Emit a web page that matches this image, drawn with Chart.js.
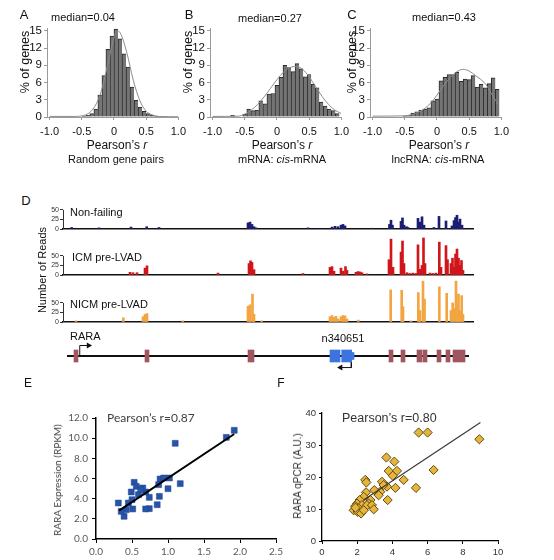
<!DOCTYPE html>
<html>
<head>
<meta charset="utf-8">
<script src="https://cdn.jsdelivr.net/npm/chart.js@4.4.1/dist/chart.umd.min.js"></script>
<style>
  body { margin: 0; background: #fff; width: 554px; height: 560px; position: relative; overflow: hidden;
         font-family: 'Liberation Sans', Arial, sans-serif; color: #111; }
  canvas { position: absolute; }
  .t { position: absolute; white-space: nowrap; line-height: 1; }
</style>
</head>
<body>
<canvas id="hA"></canvas>
<canvas id="hB"></canvas>
<canvas id="hC"></canvas>
<canvas id="tNF"></canvas>
<canvas id="tICM"></canvas>
<canvas id="tNICM"></canvas>
<canvas id="gLine"></canvas>
<canvas id="gEx"></canvas>
<canvas id="sE"></canvas>
<canvas id="sF"></canvas>
<script>
Chart.defaults.font.family = "'Liberation Sans', Arial, sans-serif";
Chart.defaults.color = '#111';

// ---------- A-C : histograms of Pearson's r ----------
const histXTicks = [-1, -0.5, 0, 0.5, 1];
const histXLabels = ['-1.0', '-0.5', '0', '0.5', '1.0'];
const histYTicks = [0, 3, 6, 9, 12, 15];

const binsA = [-0.469, -0.406, -0.344, -0.281, -0.219, -0.156, -0.094, -0.031, 0.031, 0.094,
               0.156, 0.219, 0.281, 0.344, 0.406, 0.469, 0.531, 0.594, 0.656];
const pctA  = [0.15, 0.3, 0.6, 1.4, 3.8, 7.2, 11.8, 14.1, 15.3, 13.6,
               11.0, 8.7, 5.2, 2.9, 1.7, 1.0, 0.6, 0.3, 0.15];
const fitAx = [-1, -0.6, -0.5, -0.4, -0.3, -0.2, -0.1, 0, 0.05, 0.1, 0.2, 0.3, 0.4, 0.5, 0.6, 0.7, 1];
const fitAy = [0.1, 0.1, 0.2, 0.6, 1.8, 4.4, 9.0, 13.8, 15.0, 14.6, 11.2, 6.4, 2.9, 1.0, 0.35, 0.1, 0.05];

const binsB = [-0.6875, -0.5, -0.4375, -0.375, -0.3125, -0.25, -0.1875, -0.125, -0.0625, 0, 0.0625,
               0.125, 0.1875, 0.25, 0.3125, 0.375, 0.4375, 0.5, 0.5625, 0.625, 0.6875, 0.75,
               0.8125, 0.875, 0.9375];
const pctB  = [0.3, 0.5, 1.4, 1.1, 1.2, 2.8, 2.3, 4.0, 4.1, 5.5, 6.9,
               9.0, 8.6, 7.9, 9.3, 8.4, 7.0, 7.4, 5.7, 5.1, 2.6, 1.9,
               1.4, 1.1, 0.6];
const fitBx = [-1, -0.6, -0.5, -0.4, -0.3, -0.2, -0.1, 0, 0.1, 0.2, 0.3, 0.4, 0.5, 0.6, 0.7, 0.8, 0.9, 1];
const fitBy = [0.1, 0.15, 0.5, 1.2, 2.2, 3.5, 5.0, 6.5, 7.8, 8.6, 8.8, 8.3, 7.0, 5.3, 3.6, 2.2, 1.2, 0.6];

const binsC = [-0.5, -0.4375, -0.375, -0.3125, -0.25, -0.1875, -0.125, -0.0625, 0, 0.0625,
               0.125, 0.1875, 0.25, 0.3125, 0.375, 0.4375, 0.5, 0.5625, 0.625, 0.6875,
               0.75, 0.8125, 0.875, 0.9375];
const pctC  = [0.2, 0.3, 0.7, 0.9, 1.2, 1.4, 1.6, 2.8, 3.1, 6.3,
               6.9, 7.4, 7.4, 7.8, 6.2, 6.6, 6.5, 7.2, 5.2, 5.7,
               5.1, 5.8, 6.8, 4.8];
const fitCx = [-1, -0.5, -0.4, -0.3, -0.2, -0.1, 0, 0.1, 0.2, 0.3, 0.4, 0.5, 0.6, 0.75, 0.85, 0.95];
const fitCy = [0.15, 0.2, 0.4, 0.8, 1.4, 2.4, 3.8, 5.4, 6.8, 7.8, 8.3, 8.0, 7.2, 5.8, 4.0, 2.2];

// ---------- D : read coverage (position in kb, number of reads) ----------
const trackTicks = [0, 25, 50];
const nfPos   = [0.87, 3.6, 6.8, 8.37, 9.6, 18.5, 18.7, 18.9, 19.1, 19.3, 24.5, 25.7, 26.9, 27.2, 27.5, 27.8, 28.0, 28.2,
                 30.9, 32.65, 32.8, 32.95, 33.8, 33.95, 34.1, 34.35, 34.5, 35.5, 35.7, 35.9, 36.1, 37.1, 37.6, 38.3,
                 38.9, 39.1, 39.25, 39.4, 39.55, 39.7, 39.9];
const nfReads = [4, 3, 5, 6, 4, 16, 18, 12, 6, 3, 3, 2, 5, 7, 6, 10, 12, 8,
                 2, 12, 23, 10, 20, 29, 10, 6, 4, 28, 18, 32, 10, 4, 33, 21,
                 8, 22, 30, 36, 18, 26, 10];
const icmPos   = [6.7, 7.0, 7.4, 8.2, 8.4, 15.5, 18.6, 18.75, 18.9, 19.1, 24.0, 26.7, 26.9, 27.1, 27.8, 28.0, 28.25, 28.4,
                  29.3, 29.5, 29.7, 29.9, 30.4, 32.6, 32.8, 33.0, 33.8, 33.95, 34.1, 34.4, 34.7, 35.0, 35.3,
                  35.5, 35.7, 35.9, 36.05, 36.2, 36.7, 37.0, 37.3, 37.63, 37.8, 38.3, 38.45,
                  38.8, 38.95, 39.1, 39.25, 39.4, 39.55, 39.7, 39.85, 40.0];
const icmReads = [7, 6, 6, 18, 24, 5, 30, 37, 33, 14, 4, 20, 22, 10, 18, 10, 22, 12,
                  7, 9, 8, 6, 3, 40, 94, 20, 60, 89, 30, 6, 4, 5, 4,
                  79, 15, 25, 97, 30, 5, 4, 5, 86, 20, 77, 40,
                  30, 44, 20, 55, 68, 44, 25, 38, 12];
const nicmPos   = [1.3, 6.03, 8.0, 8.2, 8.4, 11.97, 18.5, 18.7, 18.95, 19.1, 19.87, 26.7, 26.9, 27.1, 27.3, 27.5,
                   27.8, 28.0, 28.2, 28.4, 29.53, 32.77, 33.87, 34.0, 34.8, 35.53, 35.7, 36.0, 36.15, 37.63, 38.37,
                   38.8, 38.97, 39.1, 39.3, 39.45, 39.55, 39.7, 39.87, 40.0];
const nicmReads = [3, 11, 14, 20, 22, 3, 41, 45, 73, 20, 3, 14, 17, 12, 15, 8,
                   14, 17, 16, 8, 5, 84, 83, 40, 3, 77, 30, 107, 60, 92, 75,
                   30, 50, 35, 107, 50, 73, 30, 69, 20];

// gene models (kb)
const geneSpan = [0, 41];
const raraStart = [1.1, 8.2, 18.5, 32.6, 33.8, 35.4, 36.0, 37.4, 38.3, 39.0];
const raraEnd   = [1.5, 8.6, 19.1, 33.0, 34.2, 35.9, 36.4, 37.8, 38.7, 40.2];
const ncStart = [26.7, 27.87];
const ncEnd   = [27.7, 28.87];
const ncTail  = [28.87, 29.1];
const tssRaraX = [1.3, 1.3, 2.2];
const tssRaraY = [0, 0.5, 0.5];
const tssNcX = [29.0, 29.0, 27.9];
const tssNcY = [-0.25, -0.55, -0.55];

// ---------- E / F : correlations ----------
const eX = [1.92, 1.81, 1.10, 1.17, 1.02, 1.00, 0.89, 0.87, 0.88, 0.85, 0.74, 0.69, 0.74, 0.69, 0.65,
            0.59, 0.53, 0.56, 0.49, 0.50, 0.45, 0.51, 0.42, 0.39, 0.35, 0.31, 0.62, 0.94];
const eY = [10.78, 10.08, 9.49, 5.49, 6.05, 4.99, 5.95, 5.39, 4.23, 3.40, 3.01, 2.98, 4.13, 4.66, 5.06,
            4.40, 5.62, 5.22, 4.66, 3.90, 3.57, 2.98, 2.91, 2.25, 2.74, 3.57, 4.90, 6.05];
const eFitX = [0.32, 1.92];
const eFitY = [2.81, 10.41];
const eXTicks = [0, 0.5, 1, 1.5, 2, 2.5];
const eXLabels = ['0.0', '0.5', '1.0', '1.5', '2.0', '2.5'];
const eYTicks = [0, 2, 4, 6, 8, 10, 12];
const eYLabels = ['0.0', '2.0', '4.0', '6.0', '8.0', '10.0', '12.0'];

const fX = [5.49, 6.0, 8.94, 6.34, 3.66, 4.11, 3.79, 4.26, 4.02, 4.64, 5.34, 4.17, 3.69, 3.41, 3.5,
            3.31, 3.22, 3.73, 2.97, 2.46, 2.52, 2.5, 2.37, 2.75, 2.65, 2.14, 1.99, 2.27, 2.56, 2.84,
            2.94, 1.89, 2.08, 1.8, 2.03, 2.22, 2.37, 1.9];
const fY = [33.9, 33.9, 31.8, 22.2, 26.1, 24.8, 21.9, 21.9, 20.4, 19.1, 16.6, 16.6, 17.0, 18.5, 17.5,
            15.4, 14.3, 12.8, 15.9, 19.1, 18.3, 15.2, 13.8, 12.8, 11.7, 12.8, 11.7, 11.2, 11.2, 11.2,
            9.9, 10.9, 10.2, 9.6, 9.1, 8.6, 9.6, 10.4];
const fFitX = [2.4, 9.0];
const fFitY = [13.0, 37.0];
const fXTicks = [0, 2, 4, 6, 8, 10];
const fYTicks = [0, 10, 20, 30, 40];

// ---------- helpers ----------
// put a canvas so that its chart area lands on area = [left, top, right, bottom]
function place(id, area, yw, xh, pad) {
  const c = document.getElementById(id);
  c.width = area[2] - area[0] + yw + 2 * pad;
  c.height = area[3] - area[1] + xh + 2 * pad;
  c.style.left = (area[0] - yw - pad) + 'px';
  c.style.top = (area[1] - pad) + 'px';
  return c;
}

function baseOpts(pad, scales) {
  return {
    responsive: false, animation: false, events: [], devicePixelRatio: 1,
    layout: { padding: pad },
    plugins: { legend: { display: false }, tooltip: { enabled: false } },
    scales: scales
  };
}

function pts(xs, ys) { return xs.map((x, i) => ({ x: x, y: ys[i] })); }

function label(html, x, y, size, o) {
  o = o || {};
  const d = document.createElement('div');
  d.className = 't';
  d.innerHTML = html;
  d.style.left = x + 'px';
  d.style.top = y + 'px';
  d.style.fontSize = size + 'px';
  if (o.font) d.style.fontFamily = o.font;
  if (o.color) d.style.color = o.color;
  const tx = o.left ? '0' : '-50%';
  d.style.transform = 'translate(' + tx + ',-50%)' + (o.rot ? ' rotate(-90deg)' : '');
  document.body.appendChild(d);
}

// short vertical axis of a coverage track, drawn only from 0 to the top tick
const trackAxis = {
  id: 'trackAxis',
  afterDraw(chart) {
    const y = chart.scales.y, ctx = chart.ctx;
    const x0 = chart.chartArea.left;
    ctx.save();
    ctx.strokeStyle = '#333';
    ctx.lineWidth = 1;
    ctx.beginPath();
    ctx.moveTo(x0 + 0.5, y.getPixelForValue(0));
    ctx.lineTo(x0 + 0.5, y.getPixelForValue(trackTicks[trackTicks.length - 1]));
    ctx.stroke();
    ctx.restore();
  }
};

// ---------- histograms ----------
function histogram(id, area, bins, pct, fx, fy) {
  const cv = place(id, area, 30, 22, 10);
  new Chart(cv, {
    type: 'bar',
    data: {
      datasets: [
        { type: 'line', data: pts(fx, fy), borderColor: '#8c8c8c', borderWidth: 1, pointRadius: 0,
          cubicInterpolationMode: 'monotone', order: 0 },
        { data: pts(bins, pct), backgroundColor: '#747474', borderColor: '#2b2b2b',
          borderWidth: { left: 1, top: 1, right: 0, bottom: 0 }, borderSkipped: false,
          barPercentage: 1, categoryPercentage: 1, order: 1 }
      ]
    },
    options: baseOpts(10, {
      x: {
        type: 'linear', min: -1.04, max: 1, offset: false,
        afterBuildTicks: s => { s.ticks = histXTicks.map(v => ({ value: v })); },
        afterFit: s => { s.height = 22; },
        ticks: { callback: (v, i) => histXLabels[i], font: { size: 11 }, padding: 5, maxRotation: 0, autoSkip: false },
        grid: { drawOnChartArea: false, tickLength: 3, color: '#9a9a9a', offset: false },
        border: { color: '#9a9a9a' }
      },
      y: {
        min: 0, max: 15.5,
        afterBuildTicks: s => { s.ticks = histYTicks.map(v => ({ value: v })); },
        afterFit: s => { s.width = 30; },
        ticks: { callback: v => String(v), font: { size: 11.5 }, padding: 2 },
        grid: { drawOnChartArea: false, tickLength: 3, color: '#9a9a9a' },
        border: { color: '#9a9a9a' }
      }
    })
  });
}

histogram('hA', [47, 28, 181, 117], binsA, pctA, fitAx, fitAy);
histogram('hB', [210, 28, 344, 117], binsB, pctB, fitBx, fitBy);
histogram('hC', [370, 28, 504, 117], binsC, pctC, fitCx, fitCy);

// ---------- D tracks ----------
function track(id, baseY, pos, reads, color) {
  const cv = place(id, [63, baseY - 42, 473, baseY], 14, 0, 6);
  new Chart(cv, {
    type: 'bar',
    data: { datasets: [{ data: pts(pos, reads), backgroundColor: color, barThickness: 2 }] },
    options: baseOpts(6, {
      x: {
        type: 'linear', min: geneSpan[0], max: geneSpan[1], offset: false,
        afterFit: s => { s.height = 0; },
        ticks: { display: false },
        grid: { drawOnChartArea: false, drawTicks: false, offset: false },
        border: { color: '#111', width: 1.5 }
      },
      y: {
        min: 0, max: 110,
        afterBuildTicks: s => { s.ticks = trackTicks.map(v => ({ value: v })); },
        afterFit: s => { s.width = 14; },
        ticks: { callback: v => String(v), font: { size: 7 }, padding: 1, color: '#333' },
        grid: { drawOnChartArea: false, tickLength: 3, color: '#333' },
        border: { display: false }
      }
    }),
    plugins: [trackAxis]
  });
}
track('tNF', 229, nfPos, nfReads, '#1b1f73');
track('tICM', 275, icmPos, icmReads, '#d0161b');
track('tNICM', 322, nicmPos, nicmReads, '#f2a541');

// gene line + TSS arrows
const geneArea = [63, 331, 473, 381];
const hidden = { display: false };
new Chart(place('gLine', geneArea, 0, 0, 0), {
  type: 'line',
  data: {
    datasets: [
      { data: pts(geneSpan, [0, 0]), borderColor: '#111', borderWidth: 2, pointRadius: 0 },
      { data: pts(tssRaraX, tssRaraY), borderColor: '#111', borderWidth: 1, pointRadius: [0, 0, 3.5],
        pointStyle: 'triangle', pointRotation: 90, pointBackgroundColor: '#111', pointBorderWidth: 0 },
      { data: pts(tssNcX, tssNcY), borderColor: '#111', borderWidth: 1, pointRadius: [0, 0, 3.5],
        pointStyle: 'triangle', pointRotation: -90, pointBackgroundColor: '#111', pointBorderWidth: 0 }
    ]
  },
  options: baseOpts(0, {
    x: Object.assign({ type: 'linear', min: geneSpan[0], max: geneSpan[1] }, hidden),
    y: Object.assign({ type: 'linear', min: -1, max: 1 }, hidden)
  })
});

// exons
function exons(s, e) { return s.map((v, i) => ({ x: [v, e[i]], y: 0 })); }
new Chart(place('gEx', geneArea, 0, 0, 0), {
  type: 'bar',
  data: {
    datasets: [
      { data: exons(raraStart, raraEnd), backgroundColor: '#a0565f', barThickness: 12, grouped: false },
      { data: exons(ncStart, ncEnd), backgroundColor: '#3b74de', barThickness: 12, grouped: false },
      { data: exons([ncTail[0]], [ncTail[1]]), backgroundColor: '#3b74de', barThickness: 7, grouped: false }
    ]
  },
  options: Object.assign(baseOpts(0, {
    x: Object.assign({ type: 'linear', min: geneSpan[0], max: geneSpan[1] }, hidden),
    y: Object.assign({ type: 'linear', min: -1, max: 1 }, hidden)
  }), { indexAxis: 'y' })
});

// ---------- E ----------
new Chart(place('sE', [96, 418, 276, 539], 40, 18, 10), {
  type: 'scatter',
  data: {
    datasets: [
      { type: 'line', data: pts(eFitX, eFitY), borderColor: '#000', borderWidth: 2, pointRadius: 0, order: 0 },
      { data: pts(eX, eY), pointStyle: 'rect', pointRadius: 4.2, backgroundColor: '#2754a8',
        borderColor: '#1c4190', borderWidth: 0.5, order: 1 }
    ]
  },
  options: baseOpts(10, {
    x: {
      type: 'linear', min: 0, max: 2.5,
      afterBuildTicks: s => { s.ticks = eXTicks.map(v => ({ value: v })); },
      afterFit: s => { s.height = 18; },
      ticks: { callback: (v, i) => eXLabels[i], font: { family: 'Lato', size: 10 }, color: '#595959', padding: 3, maxRotation: 0, autoSkip: false },
      grid: { drawOnChartArea: false, tickLength: 4, color: '#000' },
      border: { color: '#000', width: 1.5 }
    },
    y: {
      min: 0, max: 12,
      afterBuildTicks: s => { s.ticks = eYTicks.map(v => ({ value: v })); },
      afterFit: s => { s.width = 40; },
      ticks: { callback: (v, i) => eYLabels[i], font: { family: 'Lato', size: 10 }, color: '#595959', padding: 4 },
      grid: { drawOnChartArea: false, tickLength: 4, color: '#000' },
      border: { color: '#000', width: 1.5 }
    }
  })
});

// ---------- F ----------
new Chart(place('sF', [322, 413, 498, 541], 30, 18, 10), {
  type: 'scatter',
  data: {
    datasets: [
      { type: 'line', data: pts(fFitX, fFitY), borderColor: '#3a3a3a', borderWidth: 1.2, pointRadius: 0, order: 0 },
      { data: pts(fX, fY), pointStyle: 'rectRot', pointRadius: 4.6, backgroundColor: '#e8b53c',
        borderColor: '#5e4a12', borderWidth: 1, order: 1 }
    ]
  },
  options: baseOpts(10, {
    x: {
      type: 'linear', min: 0, max: 10,
      afterBuildTicks: s => { s.ticks = fXTicks.map(v => ({ value: v })); },
      afterFit: s => { s.height = 18; },
      ticks: { callback: v => String(v), font: { size: 9.5 }, color: '#333', padding: 3, maxRotation: 0, autoSkip: false },
      grid: { drawOnChartArea: false, tickLength: 3, color: '#000' },
      border: { color: '#000', width: 1.3 }
    },
    y: {
      min: 0, max: 40,
      afterBuildTicks: s => { s.ticks = fYTicks.map(v => ({ value: v })); },
      afterFit: s => { s.width = 30; },
      ticks: { callback: v => String(v), font: { size: 9.5 }, color: '#333', padding: 3 },
      grid: { drawOnChartArea: false, tickLength: 3, color: '#000' },
      border: { color: '#000', width: 1.3 }
    }
  })
});

// ---------- text ----------
label('A', 24, 14, 13); label('B', 189, 14, 13); label('C', 352, 14, 13);
label('median=0.04', 83, 17, 11); label('median=0.27', 270, 18, 11); label('median=0.43', 444, 17, 11);
label('% of genes', 25, 62, 12.5, { rot: true });
label('% of genes', 188, 62, 12.5, { rot: true });
label('% of genes', 352, 62, 12.5, { rot: true });
label('Pearson’s <i>r</i>', 117, 145, 12); label('Random gene pairs', 116, 159, 11);
label('Pearson’s <i>r</i>', 282, 145, 12); label('mRNA: <i>cis</i>-mRNA', 282, 159, 11);
label('Pearson’s <i>r</i>', 439, 145, 12); label('lncRNA: <i>cis</i>-mRNA', 438, 159, 11);

label('D', 26, 200, 13);
label('Number of Reads', 42, 270, 11, { rot: true });
label('Non-failing', 70, 212, 11, { left: true });
label('ICM pre-LVAD', 72, 257, 11, { left: true });
label('NICM pre-LVAD', 70, 304, 11, { left: true });
label('RARA', 70, 336, 11, { left: true });
label('n340651', 343, 338, 11);

label('E', 28, 383, 12); label('F', 281, 383, 12);
label('Pearson’s r=0.87', 107, 418, 12, { left: true, font: 'Lato', color: '#404040' });
label('RARA Expression (RPKM)', 57, 480, 10, { rot: true, font: 'Lato', color: '#404040' });
label('Pearson’s r=0.80', 342, 418, 12.5, { left: true, color: '#333' });
label('RARA qPCR (A.U.)', 298, 476, 10, { rot: true, color: '#333' });
</script>
</body>
</html>
